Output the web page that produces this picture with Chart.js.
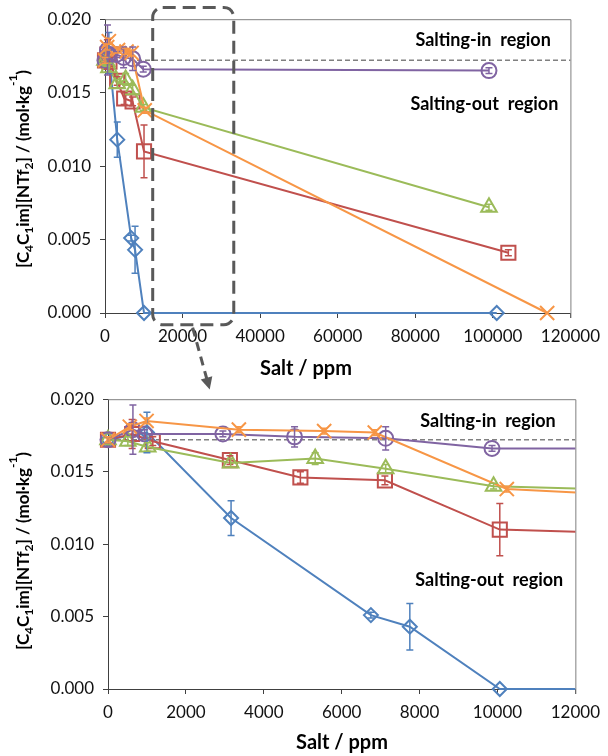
<!DOCTYPE html>
<html lang="en">
<head>
<meta charset="UTF-8">
<title>Salt effect on [C4C1im][NTf2]</title>
<script src="https://cdn.jsdelivr.net/npm/chart.js"></script>
<style>
    body { margin: 0; background: #fff; }
    .wrap { position: relative; width: 608px; height: 756px; }
    canvas { position: absolute; left: 0; }
    #topChart { top: 0; }
    #zoomChart { top: 380px; }
</style>
</head>
<body>
<div class="wrap">
    <canvas id="topChart" width="608" height="395"></canvas>
    <canvas id="zoomChart" width="608" height="376"></canvas>
</div>
<script>
// values: salt in ppm, solubility in mol/kg
const blueX = [0, 1000, 3160, 6750, 7750, 10060, 101000];
const blueY = [0.0172, 0.0177, 0.0118, 0.0051, 0.0043, 0.0000, 0.0000];
const blueErr = [0.0002, 0.0014, 0.0012, 0.0002, 0.0016, 0, 0];

const redX = [0, 620, 1150, 3130, 4940, 7110, 10060, 104000];
const redY = [0.0172, 0.0176, 0.0171, 0.0158, 0.0146, 0.0144, 0.0110, 0.0041];
const redErr = [0.0002, 0.0010, 0.0003, 0.0003, 0.0004, 0.0003, 0.0018, 0.0002];

const greenX = [0, 510, 1020, 3150, 5320, 7130, 9900, 99000];
const greenY = [0.0172, 0.0171, 0.0167, 0.0156, 0.0159, 0.0152, 0.0140, 0.0072];
const greenErr = [0.0002, 0.0003, 0.0003, 0.0003, 0.0004, 0.0003, 0.0002, 0.0002];

const purpleX = [0, 640, 940, 2950, 4790, 7130, 9860, 99000];
const purpleY = [0.0172, 0.0179, 0.0176, 0.0176, 0.0174, 0.0173, 0.0166, 0.0165];
const purpleErr = [0.0002, 0.0017, 0.0003, 0.0002, 0.0007, 0.0008, 0.0002, 0.0002];

const orangeX = [0, 560, 990, 3360, 5550, 6850, 10240, 114000];
const orangeY = [0.0172, 0.0181, 0.0185, 0.0179, 0.0178, 0.0177, 0.0138, 0.0000];
const orangeErr = [0.0002, 0.0002, 0.0002, 0.0002, 0.0002, 0.0002, 0.0002, 0];

// boundary between salting-in and salting-out
const refY = 0.0172;

const yTicks = [0, 0.005, 0.010, 0.015, 0.020];
const topXTicks = [0, 20000, 40000, 60000, 80000, 100000, 120000];
const zoomXTicks = [0, 2000, 4000, 6000, 8000, 10000, 12000];

// zoom box and arrow drawn on the top chart (data units)
const boxX = [12300, 33200];
const boxY = [0.0208, -0.0008];
const arrowX = [22600, 27000];
const arrowY = [-0.0010, -0.0052];

const toPoints = (xs, ys) => xs.map((x, i) => ({ x: x, y: ys[i] }));

function series(xs, ys, errs, color, style, radius, order) {
    return {
        data: toPoints(xs, ys),
        errors: errs,
        borderColor: color,
        backgroundColor: color,
        borderWidth: 2,
        pointStyle: style,
        pointRadius: radius,
        pointBorderWidth: 2,
        pointBorderColor: color,
        pointBackgroundColor: 'rgba(255,255,255,0)',
        tension: 0,
        order: order
    };
}

// error bars with caps
const errorBars = {
    id: 'errorBars',
    afterDatasetsDraw(chart) {
        const ctx = chart.ctx, xs = chart.scales.x, ys = chart.scales.y;
        chart.data.datasets.forEach(ds => {
            if (!ds.errors) return;
            ctx.save();
            ctx.strokeStyle = ds.borderColor;
            ctx.lineWidth = 1.5;
            ds.data.forEach((p, i) => {
                const e = ds.errors[i];
                if (!e || p.x > xs.max) return;
                const px = xs.getPixelForValue(p.x);
                const y1 = ys.getPixelForValue(p.y + e);
                const y2 = ys.getPixelForValue(p.y - e);
                ctx.beginPath();
                ctx.moveTo(px, y1); ctx.lineTo(px, y2);
                ctx.moveTo(px - 3.5, y1); ctx.lineTo(px + 3.5, y1);
                ctx.moveTo(px - 3.5, y2); ctx.lineTo(px + 3.5, y2);
                ctx.stroke();
            });
            ctx.restore();
        });
    }
};

// plot frame (top and right edges)
const frame = {
    id: 'frame',
    beforeDatasetsDraw(chart) {
        const a = chart.chartArea, ctx = chart.ctx;
        ctx.save();
        ctx.strokeStyle = '#7f7f7f';
        ctx.lineWidth = 1;
        ctx.beginPath();
        ctx.moveTo(a.left, a.top + 0.5);
        ctx.lineTo(a.right + 0.5, a.top + 0.5);
        ctx.lineTo(a.right + 0.5, a.bottom + 5);
        ctx.stroke();
        ctx.restore();
    }
};

function drawYTitle(ctx, cx, cy) {
    // 0 normal, 1 subscript, 2 superscript
    const parts = [['[C', 0], ['4', 1], ['C', 0], ['1', 1], ['im][NTf', 0], ['2', 1],
                   ['] / (mol\u00b7kg', 0], ['-1', 2], [')', 0]];
    const big = 'bold 17px Lato', small = 'bold 12px Lato';
    ctx.save();
    let total = 0;
    parts.forEach(p => { ctx.font = p[1] ? small : big; total += ctx.measureText(p[0]).width; });
    ctx.translate(cx, cy);
    ctx.rotate(-Math.PI / 2);
    ctx.textBaseline = 'alphabetic';
    ctx.fillStyle = '#000';
    let x = -total / 2;
    parts.forEach(p => {
        ctx.font = p[1] ? small : big;
        const dy = p[1] === 1 ? 10 : p[1] === 2 ? -6 : 6;
        ctx.fillText(p[0], x, dy);
        x += ctx.measureText(p[0]).width;
    });
    ctx.restore();
}

const labels = {
    id: 'labels',
    afterDraw(chart, args, opts) {
        const ctx = chart.ctx, a = chart.chartArea, ys = chart.scales.y, xs = chart.scales.x;
        ctx.save();
        ctx.fillStyle = '#000';
        ctx.font = 'bold 18px Lato';
        ctx.textAlign = 'left';
        ctx.textBaseline = 'middle';
        ctx.fillText('Salting-in  region', a.right - 155, ys.getPixelForValue(opts.inY));
        ctx.fillText('Salting-out  region', a.right - 160, ys.getPixelForValue(opts.outY));
        ctx.font = 'bold 20px Lato';
        ctx.textAlign = 'center';
        ctx.fillText('Salt / ppm', opts.xTitleX, opts.xTitleY);
        ctx.restore();
        drawYTitle(ctx, 23, opts.yTitleY);

        if (opts.box) {
            ctx.save();
            ctx.strokeStyle = '#595959';
            ctx.fillStyle = '#595959';
            ctx.lineWidth = 3;
            ctx.setLineDash([13, 7]);
            const x0 = xs.getPixelForValue(boxX[0]), x1 = xs.getPixelForValue(boxX[1]);
            const y0 = ys.getPixelForValue(boxY[0]), y1 = ys.getPixelForValue(boxY[1]);
            ctx.beginPath();
            ctx.roundRect(x0, y0, x1 - x0, y1 - y0, 10);
            ctx.stroke();
            // arrow
            const ax0 = xs.getPixelForValue(arrowX[0]), ay0 = ys.getPixelForValue(arrowY[0]);
            const ax1 = xs.getPixelForValue(arrowX[1]), ay1 = ys.getPixelForValue(arrowY[1]);
            const ang = Math.atan2(ay1 - ay0, ax1 - ax0);
            ctx.setLineDash([9, 6]);
            ctx.beginPath();
            ctx.moveTo(ax0, ay0);
            ctx.lineTo(ax1 - 9 * Math.cos(ang), ay1 - 9 * Math.sin(ang));
            ctx.stroke();
            ctx.setLineDash([]);
            ctx.beginPath();
            ctx.moveTo(ax1, ay1);
            ctx.lineTo(ax1 - 12 * Math.cos(ang) + 6 * Math.sin(ang), ay1 - 12 * Math.sin(ang) - 6 * Math.cos(ang));
            ctx.lineTo(ax1 - 12 * Math.cos(ang) - 6 * Math.sin(ang), ay1 - 12 * Math.sin(ang) + 6 * Math.cos(ang));
            ctx.closePath();
            ctx.fill();
            ctx.restore();
        }
    }
};

function makeChart(id, xMax, xTicks, layout, clip, labelOpts) {
    const datasets = [
        series(blueX, blueY, blueErr, '#4F81BD', 'rectRot', 7, 5),
        series(redX, redY, redErr, '#C0504D', 'rect', 10, 4),
        series(greenX, greenY, greenErr, '#9BBB59', 'triangle', 9, 3),
        series(purpleX, purpleY, purpleErr, '#8064A2', 'circle', 7.5, 2),
        series(orangeX, orangeY, orangeErr, '#F79646', 'crossRot', 10, 1),
        {
            data: toPoints([0, xMax], [refY, refY]),
            borderColor: '#808080',
            borderWidth: 1.5,
            borderDash: [5, 3],
            pointRadius: 0,
            order: 10
        }
    ];
    datasets.forEach(d => { d.clip = clip; });

    return new Chart(document.getElementById(id), {
        type: 'line',
        data: { datasets: datasets },
        options: {
            responsive: false,
            animation: false,
            layout: { padding: layout },
            plugins: {
                legend: { display: false },
                tooltip: { enabled: false },
                labels: labelOpts
            },
            scales: {
                x: {
                    type: 'linear',
                    min: 0,
                    max: xMax,
                    afterBuildTicks: s => { s.ticks = xTicks.map(v => ({ value: v })); },
                    afterFit: s => { s.height = 40; },
                    ticks: {
                        padding: 8,
                        color: '#111',
                        maxRotation: 0,
                        autoSkip: false,
                        font: { family: 'Lato', size: 17 },
                        callback: v => String(v)
                    },
                    grid: { drawOnChartArea: false, tickLength: 5, color: '#404040' },
                    border: { color: '#404040' }
                },
                y: {
                    min: 0,
                    max: 0.02,
                    afterBuildTicks: s => { s.ticks = yTicks.map(v => ({ value: v })); },
                    afterFit: s => { s.width = 60; },
                    ticks: {
                        padding: 9,
                        color: '#111',
                        font: { family: 'Lato', size: 17 },
                        callback: v => v.toFixed(3)
                    },
                    grid: { drawOnChartArea: false, tickLength: 5, color: '#404040' },
                    border: { color: '#404040' }
                }
            }
        },
        plugins: [frame, errorBars, labels]
    });
}

makeChart('topChart', 120000, topXTicks,
    { left: 45, right: 29, top: 19, bottom: 42 },
    false,
    { inY: 0.0186, outY: 0.0142, xTitleX: 306, xTitleY: 369, yTitleY: 169, box: true });

makeChart('zoomChart', 12000, zoomXTicks,
    { left: 48, right: 29, top: 19, bottom: 27 },
    { left: false, top: false, right: 0, bottom: false },
    { inY: 0.01848, outY: 0.0075, xTitleX: 342, xTitleY: 363, yTitleY: 171, box: false });
</script>
</body>
</html>
